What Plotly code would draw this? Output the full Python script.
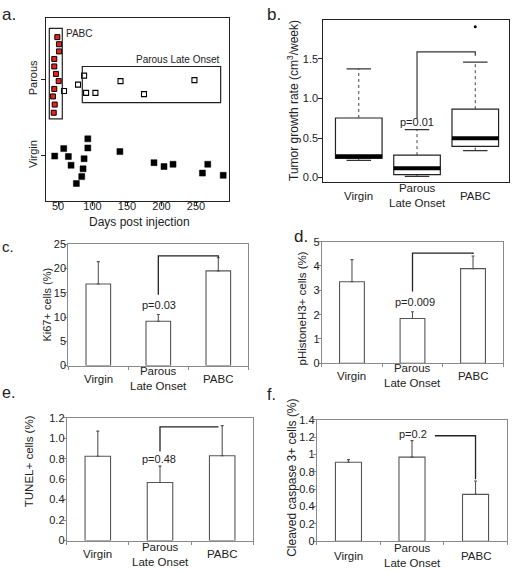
import plotly.graph_objects as go

W, H = 512, 571
FONT = "Liberation Sans, Arial, sans-serif"
DARK = "#222222"
GRAY = "#8a8a8a"
BAROUT = "#555555"

# ---------------- Panel a data ----------------
a_xticks = [50, 100, 150, 200, 250]
a_ycats = ["Virgin", "Parous"]
pabc_days = [49, 51.5, 51.5, 44.6, 44.6, 47, 51, 44.6, 42.7, 45.2, 43.8]
pabc_y = [1.555, 1.462, 1.368, 1.269, 1.171, 1.073, 0.979, 0.876, 0.778, 0.671, 0.564]
late_days = [58.7, 79, 87.8, 90.7, 104.2, 140.6, 174.6, 247.7]
late_y = [0.85, 0.932, 1.051, 0.824, 0.824, 0.979, 0.808, 0.991]
virgin_days = [45.2, 58.3, 65, 68.9, 76.6, 84.4, 86.3, 87.8, 93.2, 93.2,
               139.7, 189.1, 203.6, 216.7, 259.3, 267, 289.4]
virgin_y = [-0.004, 0.094, -0.009, -0.124, -0.363, -0.273, -0.171, -0.038, 0.222,
            0.103, 0.055, -0.09, -0.141, -0.111, -0.227, -0.111, -0.256]

# ---------------- Shared categories ----------------
groups = ["Virgin", "Parous<br>Late Onset", "PABC"]

# ---------------- Panel b data (box stats) ----------------
b_min = [0.217, 0.016, 0.341]
b_q1 = [0.244, 0.037, 0.395]
b_med = [0.269, 0.119, 0.498]
b_q3 = [0.753, 0.284, 0.864]
b_max = [1.374, 0.605, 1.457]
b_outlier_group = [2]
b_outlier_val = [1.905]
b_yticks = [0.0, 0.5, 1.0, 1.5]
b_yticktext = ["0.0", "0.5", "1.0", "1.5"]

# ---------------- Bar panels ----------------
c_vals = [16.8, 9.13, 19.5]
c_err = [4.6, 1.4, 2.7]
c_yticks = [0, 5, 10, 15, 20, 25]
c_yticktext = ["0", "5", "10", "15", "20", "25"]

d_vals = [3.35, 1.84, 3.89]
d_err = [0.91, 0.28, 0.52]
d_yticks = [0, 1, 2, 3, 4, 5]
d_yticktext = ["0", "1", "2", "3", "4", "5"]

e_vals = [0.824, 0.568, 0.83]
e_err = [0.246, 0.16, 0.294]
e_yticks = [0, 0.2, 0.4, 0.6, 0.8, 1.0, 1.2]
e_yticktext = ["0", "0.2", "0.4", "0.6", "0.8", "1.0", "1.2"]

f_vals = [0.911, 0.97, 0.54]
f_err = [0.03, 0.19, 0.155]
f_yticks = [0, 0.2, 0.4, 0.6, 0.8, 1.0, 1.2, 1.4]
f_yticktext = ["0", "0.2", "0.4", "0.6", "0.8", "1", "1.2", "1.4"]


def px(x):
    return x / W


def py(y):
    return 1 - y / H


fig = go.Figure()

# ---------- Panel a ----------
fig.add_trace(go.Scatter(x=virgin_days, y=virgin_y, mode="markers", xaxis="x", yaxis="y",
                         marker=dict(symbol="square", size=6, color="black",
                                     line=dict(color="black", width=0.5)),
                         showlegend=False, hoverinfo="skip"))
fig.add_trace(go.Scatter(x=late_days, y=late_y, mode="markers", xaxis="x", yaxis="y",
                         marker=dict(symbol="square", size=5, color="white",
                                     line=dict(color="black", width=1.1)),
                         showlegend=False, hoverinfo="skip"))
fig.add_trace(go.Scatter(x=pabc_days, y=pabc_y, mode="markers", xaxis="x", yaxis="y",
                         marker=dict(symbol="square", size=5, color="#e8231f",
                                     line=dict(color="black", width=1)),
                         showlegend=False, hoverinfo="skip"))

shapes = [
    dict(type="rect", xref="x", yref="y", x0=37.4, x1=56.2, y0=0.483, y1=1.67,
         line=dict(color=DARK, width=1.2)),
    dict(type="rect", xref="x", yref="y", x0=85.2, x1=285.7, y0=0.696, y1=1.17,
         line=dict(color=DARK, width=1.2)),
]

# ---------- Panel b ----------
fig.add_trace(go.Box(x=[0, 1, 2], q1=b_q1, median=b_med, q3=b_q3,
                     lowerfence=b_q1, upperfence=b_q3, width=0.8,
                     xaxis="x2", yaxis="y2", fillcolor="white",
                     line=dict(color=DARK, width=1.2), boxpoints=False,
                     showlegend=False, hoverinfo="skip"))
wx, wy = [], []
for i in range(3):
    wx += [i, i, None, i, i, None]
    wy += [b_q3[i], b_max[i], None, b_min[i], b_q1[i], None]
fig.add_trace(go.Scatter(x=wx, y=wy, mode="lines", xaxis="x2", yaxis="y2",
                         line=dict(color="#444", width=1, dash="dot"),
                         showlegend=False, hoverinfo="skip"))
cx, cy = [], []
for i in range(3):
    cx += [i - 0.21, i + 0.21, None, i - 0.21, i + 0.21, None]
    cy += [b_max[i], b_max[i], None, b_min[i], b_min[i], None]
fig.add_trace(go.Scatter(x=cx, y=cy, mode="lines", xaxis="x2", yaxis="y2",
                         line=dict(color="#333", width=1.2),
                         showlegend=False, hoverinfo="skip"))
mx, my = [], []
for i in range(3):
    mx += [i - 0.4, i + 0.4, None]
    my += [b_med[i], b_med[i], None]
fig.add_trace(go.Scatter(x=mx, y=my, mode="lines", xaxis="x2", yaxis="y2",
                         line=dict(color="black", width=4),
                         showlegend=False, hoverinfo="skip"))
fig.add_trace(go.Scatter(x=b_outlier_group, y=b_outlier_val, mode="markers",
                         xaxis="x2", yaxis="y2",
                         marker=dict(size=3, color="black"),
                         showlegend=False, hoverinfo="skip"))
fig.add_trace(go.Scatter(x=[1, 1, 2, 2], y=[0.744, 1.588, 1.588, 1.538], mode="lines",
                         xaxis="x2", yaxis="y2", line=dict(color="#333", width=1.2),
                         showlegend=False, hoverinfo="skip"))

# ---------- Bar panels ----------
bar_panels = [
    ("x3", "y3", c_vals, c_err, [1, 1, 2, 2], [14.6, 22.6, 22.6, 22.2]),
    ("x4", "y4", d_vals, d_err, [1, 1, 2, 2], [2.95, 4.53, 4.53, 4.49]),
    ("x5", "y5", e_vals, e_err, [1, 1, 1.94], [0.872, 1.111, 1.111]),
    ("x6", "y6", f_vals, f_err, [2, 2, 1.36], [0.716, 1.216, 1.216]),
]
for xa, ya, vals, err, bx, by in bar_panels:
    fig.add_trace(go.Bar(x=[0, 1, 2], y=vals, width=0.41, xaxis=xa, yaxis=ya,
                         marker=dict(color="white", line=dict(color=BAROUT, width=1.1)),
                         error_y=dict(type="data", array=err, arrayminus=[0, 0, 0],
                                      symmetric=False, color=BAROUT, thickness=1.1, width=1.5),
                         showlegend=False, hoverinfo="skip"))
    fig.add_trace(go.Scatter(x=bx, y=by, mode="lines", xaxis=xa, yaxis=ya,
                             line=dict(color="#222", width=1.3),
                             showlegend=False, hoverinfo="skip"))


def xax(dom, rng, anchor, color, **kw):
    d = dict(domain=[px(dom[0]), px(dom[1])], range=rng, anchor=anchor,
             showline=True, mirror=True, linecolor=color, linewidth=1,
             showgrid=False, zeroline=False, ticks="outside", tickcolor=color,
             tickfont=dict(size=11, color=DARK, family=FONT))
    d.update(kw)
    return d


def yax(dom, rng, anchor, color, **kw):
    d = dict(domain=[py(dom[1]), py(dom[0])], range=rng, anchor=anchor,
             showline=True, mirror=True, linecolor=color, linewidth=1,
             showgrid=False, zeroline=False, ticks="outside", tickcolor=color,
             ticklen=3, ticklabelstandoff=-4,
             tickfont=dict(size=11, color=DARK, family=FONT))
    d.update(kw)
    return d


bar_x = dict(tickvals=[-0.5, 0.5, 1.5, 2.5], showticklabels=False, ticklen=3)

layout = dict(
    width=W, height=H, margin=dict(l=0, r=0, t=0, b=0),
    paper_bgcolor="white", plot_bgcolor="white",
    font=dict(family=FONT, size=11, color=DARK),
    xaxis=xax((46, 229), [32.6, 297.8], "y", DARK, tickvals=a_xticks, ticklen=4,
              ticklabelstandoff=-9),
    yaxis=yax((12.7, 199), [-0.59, 1.80], "x", DARK, tickvals=[0, 1], ticktext=a_ycats,
              tickangle=-90, ticklen=4, ticklabelstandoff=0),
    xaxis2=xax((323.3, 509.3), [-0.609, 2.584], "y2", DARK, showticklabels=False, ticks=""),
    yaxis2=yax((14.3, 180), [-0.058, 1.99], "x2", DARK, tickvals=b_yticks,
               ticktext=b_yticktext, ticklen=4, ticklabelstandoff=-2),
    xaxis3=xax((68.3, 248.3), [-0.5, 2.5], "y3", GRAY, **bar_x),
    yaxis3=yax((243.3, 367.3), [0, 25], "x3", GRAY, tickvals=c_yticks, ticktext=c_yticktext),
    xaxis4=xax((321.7, 503.3), [-0.5, 2.5], "y4", GRAY, **bar_x),
    yaxis4=yax((240.7, 365), [0, 5], "x4", GRAY, tickvals=d_yticks, ticktext=d_yticktext),
    xaxis5=xax((66.7, 253.3), [-0.5, 2.5], "y5", GRAY, **bar_x),
    yaxis5=yax((420.7, 546), [0, 1.2], "x5", GRAY, tickvals=e_yticks, ticktext=e_yticktext),
    xaxis6=xax((316.7, 507.3), [-0.5, 2.5], "y6", GRAY, **bar_x),
    yaxis6=yax((422.7, 546.7), [0, 1.4], "x6", GRAY, tickvals=f_yticks, ticktext=f_yticktext),
    shapes=shapes,
)

ann = []


def text(x, y, s, size=11, xanchor="center", angle=0):
    ann.append(dict(xref="paper", yref="paper", x=px(x), y=py(y), text=s,
                    showarrow=False, xanchor=xanchor, yanchor="middle", textangle=angle,
                    font=dict(size=size, family=FONT, color=DARK)))


# panel letters
text(0, 9, "a.", 17, "left")
text(265, 9, "b.", 17, "left")
text(0, 246, "c.", 15, "left")
text(292, 235, "d.", 17, "left")
text(0, 395, "e.", 16, "left")
text(265, 397, "f.", 16, "left")

# panel a texts
text(64, 28, "PABC", 10, "left")
text(178, 55, "Parous Late Onset", 10)
text(139, 221, "Days post injection", 12)

# y titles
text(293, 97, "Tumor growth rate (cm<sup>3</sup>/week)", 12, angle=-90)
text(47, 305, "Ki67+ cells (%)", 11, angle=-90)
text(302, 309, "pHistoneH3+ cells (%)", 11.5, angle=-90)
text(29, 465, "TUNEL+ cells (%)", 11.5, angle=-90)
text(292, 482, "Cleaved caspase 3+ cells (%)", 12, angle=-90)

# category labels below each group panel
panels_cat = [("x2", 180, 14), ("x3", 367.3, 13.7), ("x4", 365, 12.7),
              ("x5", 546, 14), ("x6", 546.7, 15)]
for xa, bottom, off in panels_cat:
    for i, g in enumerate(groups):
        ann.append(dict(xref=xa, yref="paper", x=i, y=py(bottom + off), text=g,
                        showarrow=False, xanchor="center", yanchor="middle",
                        font=dict(size=11.5, family=FONT, color=DARK)))

# p-values
pvals = [("x2", "y2", 1, 0.70, "p=0.01"), ("x3", "y3", 1.01, 12.4, "p=0.03"),
         ("x4", "y4", 1.04, 2.51, "p=0.009"), ("x5", "y5", 0.98, 0.80, "p=0.48"),
         ("x6", "y6", 1.02, 1.235, "p=0.2")]
for xa, ya, x, y, s in pvals:
    ann.append(dict(xref=xa, yref=ya, x=x, y=y, text=s, showarrow=False,
                    xanchor="center", yanchor="middle",
                    font=dict(size=11, family=FONT, color=DARK)))

layout["annotations"] = ann
fig.update_layout(**layout)
fig.write_html("out.html", config={"displayModeBar": False},
               post_script="document.body.style.margin='0px';document.body.style.padding='0px';")
